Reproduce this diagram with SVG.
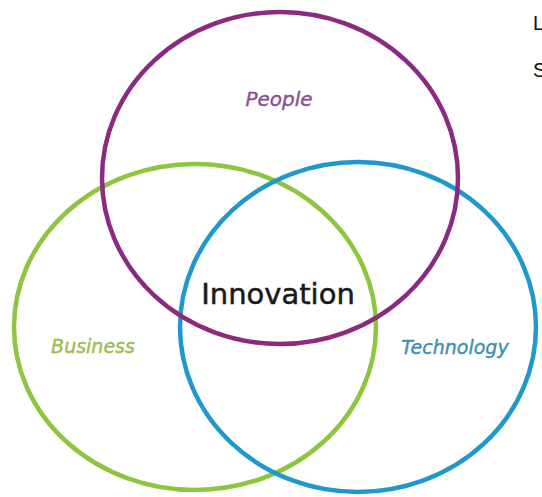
<svg xmlns="http://www.w3.org/2000/svg" width="542" height="497" viewBox="0 0 542 497">
<style>
.c{fill:none;stroke-width:4.5}
.t{font-family:"DejaVu Sans","Liberation Sans",sans-serif;font-style:italic;text-anchor:middle}
</style>
<rect width="542" height="497" fill="#ffffff"/>
<g id="business-circle"><ellipse class="c" cx="195" cy="327" rx="181" ry="163" stroke="#8cc63e"/></g>
<g id="technology-circle"><ellipse class="c" cx="358" cy="327" rx="178" ry="165" stroke="#1f98cc"/></g>
<g id="people-circle"><ellipse class="c" cx="280" cy="178" rx="178" ry="166" stroke="#8a2a80"/></g>
<g id="labels">
<text class="t" x="279" y="106" font-size="20" fill="#8c4f90" stroke="#8c4f90" stroke-width="0.4">People</text>
<text class="t" x="278" y="304" font-size="29" fill="#1a1a1a" stroke="#1a1a1a" stroke-width="0.5" style="font-style:normal">Innovation</text>
<text class="t" x="93" y="353" font-size="19" fill="#9cbb52" stroke="#9cbb52" stroke-width="0.4">Business</text>
<text class="t" x="455" y="354" font-size="19" fill="#3e8fb1" stroke="#3e8fb1" stroke-width="0.4">Technology</text>
<text x="533" y="30" font-size="20" font-family="Liberation Sans,sans-serif" fill="#111">L</text>
<text x="533" y="77" font-size="20" font-family="Liberation Sans,sans-serif" fill="#111">S</text>
</g>
</svg>
